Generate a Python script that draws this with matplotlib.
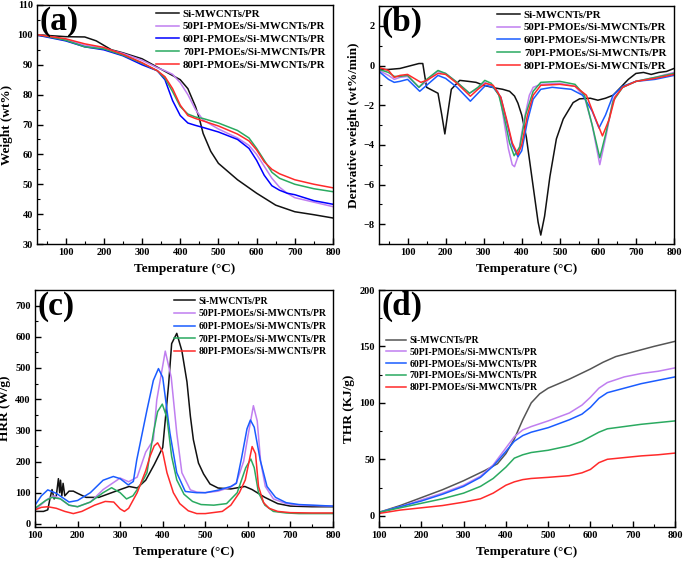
import numpy as np
import matplotlib
matplotlib.use('Agg')
import matplotlib.pyplot as plt
from matplotlib.ticker import AutoMinorLocator

plt.rcParams['font.family'] = ['Liberation Serif', 'DejaVu Serif']
plt.rcParams['font.weight'] = 'bold'
plt.rcParams['axes.labelweight'] = 'bold'

names = ['Si-MWCNTs/PR', '50PI-PMOEs/Si-MWCNTs/PR', '60PI-PMOEs/Si-MWCNTs/PR',
         '70PI-PMOEs/Si-MWCNTs/PR', '80PI-PMOEs/Si-MWCNTs/PR']
colors = ['#111111', '#c07ff0', '#1a5cff', '#2aaa60', '#ff2a2a']

# (a) TGA
tga_t0 = [30, 100, 150, 180, 200, 220, 250, 300, 350, 400, 420, 440, 450, 460, 480, 500, 550, 600, 650, 700, 750, 800]
tga_w0 = [100, 99.4, 99.3, 98, 96.5, 95, 94, 92, 88.5, 85, 82, 76, 72, 67, 61, 57, 51.5, 47, 43, 40.8, 39.8, 38.7]
tga_t = [30, 100, 150, 200, 250, 300, 340, 360, 380, 400, 420, 440, 460, 500, 550, 580, 600, 620, 640, 660, 680, 700, 750, 800]
tga_w1 = [100, 98.5, 96.5, 95.5, 93.8, 91.5, 89, 88, 86.8, 84, 80, 75, 71.5, 68.5, 65.5, 63, 60, 56, 52, 49, 47, 45.5, 44, 42.5]
tga_w2 = [99.8, 98, 96, 95, 93, 90, 88, 85, 78, 73, 70.5, 69.7, 69, 67.5, 65, 62, 58, 53, 49.5, 48, 47, 46.5, 44.5, 43.3]
tga_w3 = [100, 98.2, 96, 95.3, 93.2, 90.5, 88, 85.5, 81, 76, 73.5, 72.5, 72, 70.5, 68, 65.5, 62, 58, 54, 52, 51, 50, 48.5, 47.5]
tga_w4 = [100, 98.7, 97, 95.8, 93.5, 90.7, 88, 86, 82, 76.5, 73, 72, 71.2, 69.5, 66.8, 64.5, 61.5, 57.5, 55, 53.5, 52.5, 51.5, 50, 48.8]

# (b) DTG
dtg_t0 = [25, 50, 80, 100, 130, 140, 150, 160, 180, 190, 198, 205, 215, 237, 260, 280, 300, 329, 350, 368, 381, 390, 400, 412, 430, 443, 450, 460, 474, 491, 509, 535, 552, 580, 600, 620, 640, 660, 680, 700, 720, 740, 760, 780, 800]
dtg_d0 = [-0.2, -0.2, -0.15, -0.05, 0.1, 0.1, -1.1, -1.2, -1.4, -2.5, -3.45, -2.5, -1.2, -0.75, -0.8, -0.85, -1.0, -1.13, -1.2, -1.3, -1.54, -1.9, -2.5, -3.6, -6.1, -7.9, -8.55, -7.6, -5.6, -3.7, -2.7, -1.87, -1.68, -1.65, -1.75, -1.65, -1.5, -1.1, -0.7, -0.4, -0.35, -0.45, -0.35, -0.3, -0.15]
dtg_t1 = [25, 50, 65, 80, 100, 130, 150, 178, 200, 230, 262, 285, 302, 320, 337, 345, 355, 365, 375, 381, 390, 400, 410, 420, 430, 450, 500, 540, 565, 585, 605, 622, 640, 665, 700, 750, 800]
dtg_d1 = [-0.25, -0.5, -0.7, -0.6, -0.55, -1.1, -0.8, -0.3, -0.4, -0.85, -1.4, -1.15, -0.85, -1.0, -1.3, -1.8, -3.0, -4.2, -5.0, -5.1, -4.6, -3.4, -2.4, -1.5, -1.1, -0.95, -0.9, -1.05, -1.6, -3.0, -5.0, -3.5, -1.7, -1.1, -0.8, -0.6, -0.35]
dtg_t2 = [25, 50, 65, 80, 100, 132, 150, 180, 200, 230, 265, 290, 305, 325, 345, 360, 375, 390, 400, 415, 430, 450, 480, 530, 560, 585, 603, 620, 640, 665, 700, 750, 800]
dtg_d2 = [-0.3, -0.7, -0.85, -0.8, -0.7, -1.3, -1.0, -0.5, -0.65, -1.1, -1.8, -1.3, -1.0, -1.1, -1.6, -2.8, -4.0, -4.6, -4.3, -2.8, -1.7, -1.2, -1.1, -1.2, -1.5, -2.3, -3.15, -2.5, -1.5, -1.05, -0.8, -0.7, -0.5]
dtg_t3 = [25, 50, 65, 80, 100, 130, 150, 180, 200, 230, 263, 285, 303, 320, 340, 355, 368, 380, 395, 410, 430, 450, 500, 540, 565, 585, 605, 620, 640, 665, 700, 750, 800]
dtg_d3 = [-0.2, -0.35, -0.55, -0.55, -0.5, -1.1, -0.7, -0.25, -0.4, -0.85, -1.4, -1.1, -0.75, -0.9, -1.5, -2.7, -3.9, -4.55, -4.1, -2.5, -1.3, -0.85, -0.8, -0.95, -1.5, -3.0, -4.65, -3.5, -1.8, -1.1, -0.8, -0.6, -0.4]
dtg_t4 = [25, 50, 65, 80, 100, 135, 150, 180, 200, 230, 265, 285, 305, 325, 345, 360, 375, 390, 400, 415, 430, 450, 500, 540, 570, 590, 612, 630, 645, 665, 700, 750, 800]
dtg_d4 = [-0.1, -0.25, -0.6, -0.5, -0.45, -0.85, -0.75, -0.4, -0.45, -0.9, -1.55, -1.2, -0.9, -1.0, -1.6, -2.7, -3.9, -4.5, -4.0, -2.5, -1.5, -1.0, -0.95, -1.05, -1.5, -2.5, -3.55, -2.7, -1.6, -1.1, -0.8, -0.65, -0.45]

# (c) HRR
hrr_t0 = [100, 120, 130, 135, 140, 145, 150, 155, 158, 160, 163, 166, 170, 180, 190, 200, 220, 250, 280, 300, 321, 340, 360, 380, 400, 414, 421, 433, 445, 457, 465, 472, 484, 496, 511, 530, 560, 593, 610, 640, 670, 700, 750, 800]
hrr_q0 = [40, 40, 45, 80, 110, 80, 90, 145, 100, 140, 90, 130, 90, 105, 105, 98, 85, 85, 100, 110, 120, 115, 140, 190, 245, 450, 578, 611, 555, 455, 345, 270, 195, 160, 128, 115, 112, 120, 110, 85, 65, 57, 55, 55]
hrr_t1 = [100, 130, 145, 160, 180, 200, 230, 260, 300, 320, 340, 360, 378, 386, 406, 420, 433, 445, 465, 480, 500, 530, 560, 573, 590, 600, 613, 622, 630, 641, 660, 690, 720, 800]
hrr_q1 = [45, 80, 90, 80, 60, 55, 70, 110, 147, 135, 150, 230, 269, 397, 554, 470, 291, 164, 109, 102, 100, 105, 118, 132, 200, 280, 379, 330, 200, 120, 80, 65, 60, 57]
hrr_t2 = [100, 115, 130, 150, 180, 200, 230, 260, 284, 300, 319, 331, 339, 363, 378, 390, 400, 417, 433, 453, 480, 500, 530, 560, 573, 585, 598, 606, 615, 629, 645, 665, 690, 720, 800]
hrr_q2 = [60, 90, 109, 98, 70, 75, 100, 140, 152, 145, 125, 136, 205, 365, 460, 498, 470, 291, 164, 104, 100, 100, 108, 120, 130, 210, 305, 333, 310, 205, 120, 85, 68, 62, 57]
hrr_t3 = [100, 125, 140, 160, 180, 200, 230, 260, 280, 300, 315, 330, 350, 363, 378, 388, 399, 410, 421, 433, 450, 470, 490, 520, 550, 575, 595, 607, 615, 625, 640, 660, 690, 720, 800]
hrr_q3 = [50, 75, 85, 80, 60, 55, 70, 100, 116, 100, 80, 90, 130, 164, 291, 360, 384, 340, 216, 141, 95, 72, 62, 60, 65, 100, 180, 208, 180, 100, 60, 40, 35, 33, 33]
hrr_t4 = [100, 115, 130, 150, 170, 190, 210, 240, 265, 285, 300, 310, 320, 340, 360, 370, 380, 388, 400, 410, 425, 440, 460, 480, 500, 540, 560, 580, 594, 610, 618, 625, 637, 650, 670, 700, 750, 800]
hrr_q4 = [45, 53, 55, 50, 40, 33, 40, 60, 72, 70, 48, 40, 50, 100, 170, 216, 250, 260, 230, 164, 100, 65, 42, 33, 33, 40, 60, 100, 141, 248, 225, 120, 68, 50, 40, 36, 35, 35]

# (d) THR
thr_t0 = [100, 150, 200, 250, 300, 350, 380, 400, 420, 440, 460, 480, 500, 550, 600, 630, 660, 700, 750, 800]
thr_q0 = [3, 9, 16, 23, 31, 40, 46, 55, 68, 85, 100, 108, 113, 121, 130, 136, 141, 145, 150, 154.5]
thr_t = [100, 150, 200, 250, 300, 340, 370, 400, 420, 440, 460, 500, 550, 580, 600, 620, 640, 680, 720, 760, 800]
thr_q1 = [3, 8, 14, 20, 27, 35, 45, 60, 70, 76, 79, 84, 91, 98, 105, 113, 118, 123, 126, 128, 131]
thr_q2 = [3, 8, 13, 19, 26, 34, 44, 57, 66, 71, 74, 78, 85, 90, 96, 104, 109, 113, 117, 120, 123]
thr_q3 = [3, 7, 11, 15, 20, 26, 33, 43, 51, 54, 56, 58, 62, 66, 70, 74, 77, 79, 81, 82.5, 84]
thr_q4 = [2, 5, 7, 9, 12, 15, 20, 27, 30, 32, 33, 34, 35.5, 38, 41, 47, 50, 51.5, 53, 54, 55.5]

W, H = 685, 564
fig = plt.figure(figsize=(W / 100, H / 100), dpi=100)


def make_ax(l, r, t, b):
    return fig.add_axes([l / W, 1 - b / H, (r - l) / W, (b - t) / H])


def style(ax, label):
    ax.xaxis.set_minor_locator(AutoMinorLocator(2))
    ax.yaxis.set_minor_locator(AutoMinorLocator(2))
    ax.tick_params(which='both', direction='in', top=False, right=False,
                   labelsize=7.5, pad=3)
    ax.tick_params(which='major', length=4, width=1)
    ax.tick_params(which='minor', length=2.2, width=0.8)
    for s in ax.spines.values():
        s.set_linewidth(1.0)
    ax.set_xlabel('Temperature (°C)', fontsize=9.5, labelpad=4)
    ax.text(0.01, 0.995, label, transform=ax.transAxes, fontsize=24,
            fontweight='bold', va='top', ha='left')


def legend(ax, size=7.8, spacing=0.3, **kw):
    ax.legend(frameon=False, fontsize=size, handlelength=2.1, handletextpad=0.35,
              labelspacing=spacing, borderaxespad=0.3, **kw)


# (a)
ax = make_ax(37, 333, 5, 244)
a_colors = ['#111111', '#c07ff0', '#0000ff', '#2aaa60', '#ff2a2a']
ax.plot(tga_t0, tga_w0, color=a_colors[0], lw=1.1, label=names[0])
for w, c, n in zip([tga_w1, tga_w2, tga_w3, tga_w4], a_colors[1:], names[1:]):
    ax.plot(tga_t, w, color=c, lw=1.1, label=n)
ax.set_xlim(25, 800)
ax.set_ylim(30, 110)
ax.set_xticks(range(100, 801, 100))
ax.set_ylabel('Weight (wt%)', fontsize=9.5, labelpad=3)
style(ax, '(a)')
legend(ax, loc='upper right', bbox_to_anchor=(1.0, 1.015))

# (b)
ax = make_ax(379, 674, 6, 244)
ax.plot(dtg_t0, dtg_d0, color=colors[0], lw=1.1, label=names[0])
for t, d, c, n in zip([dtg_t1, dtg_t2, dtg_t3, dtg_t4], [dtg_d1, dtg_d2, dtg_d3, dtg_d4],
                      colors[1:], names[1:]):
    ax.plot(t, d, color=c, lw=1.1, label=n)
ax.set_xlim(25, 800)
ax.set_ylim(-9, 3)
ax.set_xticks(range(100, 801, 100))
ax.set_yticks(range(-8, 3, 2))
ax.set_ylabel('Derivative weight (wt%/min)', fontsize=9.5, labelpad=3)
style(ax, '(b)')
legend(ax, loc='upper right', bbox_to_anchor=(1.0, 1.015))

# (c)
ax = make_ax(35, 333, 290, 527)
for t, q, c, n in zip([hrr_t0, hrr_t1, hrr_t2, hrr_t3, hrr_t4],
                      [hrr_q0, hrr_q1, hrr_q2, hrr_q3, hrr_q4], colors, names):
    ax.plot(t, q, color=c, lw=1.1, label=n)
ax.set_xlim(100, 800)
ax.set_ylim(-10, 750)
ax.set_xticks(range(100, 801, 100))
ax.set_yticks(range(0, 701, 100))
ax.set_ylabel('HRR (W/g)', fontsize=9.5, labelpad=3)
style(ax, '(c)')
legend(ax, size=7.0, spacing=0.37, loc='upper right', bbox_to_anchor=(1.0, 1.0))

# (d)
ax = make_ax(379, 675, 290, 527)
ax.plot(thr_t0, thr_q0, color='#555555', lw=1.1, label=names[0])
for q, c, n in zip([thr_q1, thr_q2, thr_q3, thr_q4], colors[1:], names[1:]):
    ax.plot(thr_t, q, color=c, lw=1.1, label=n)
ax.set_xlim(100, 800)
ax.set_ylim(-10, 200)
ax.set_xticks(range(100, 801, 100))
ax.set_yticks(range(0, 201, 50))
ax.set_ylabel('THR (KJ/g)', fontsize=9.5, labelpad=3)
style(ax, '(d)')
legend(ax, size=7.0, spacing=0.29, loc='upper left', bbox_to_anchor=(0.0, 0.835))

fig.savefig('out.png', dpi=100)
